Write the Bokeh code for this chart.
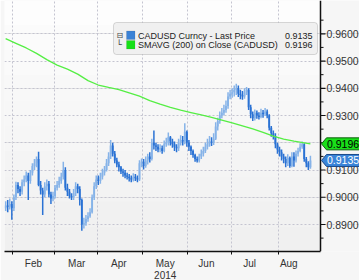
from bokeh.plotting import figure
from bokeh.models import Range1d, FixedTicker, BoxAnnotation, Label, Grid
from bokeh.core.properties import value
from bokeh.embed import file_html
from bokeh.resources import INLINE

# ---------------- data (trading-day index 0 = 28 Jan 2014) ----------------
month_names = ["Feb", "Mar", "Apr", "May", "Jun", "Jul", "Aug"]
month_bounds = [3.5, 23.5, 44.5, 66.5, 88.5, 109.5, 132.5]
month_label_pos = [13.5, 34.5, 55.0, 77.5, 97.5, 118.5, 137.5]
year_label = "2014"
year_under = "May"

open_first = 0.8960
close = [
    0.8970, 0.8965, 0.8975, 0.8960, 0.9000, 0.9045, 0.9030, 0.9020, 0.9055, 0.9065,
    0.9080, 0.9060, 0.9090, 0.9115, 0.9125, 0.9140, 0.9045, 0.9025, 0.9010, 0.9040,
    0.9050, 0.9010, 0.8995, 0.9005, 0.9035, 0.9045, 0.9060, 0.9075, 0.9100, 0.9035,
    0.9020, 0.9005, 0.9000, 0.9015, 0.9040, 0.9030, 0.8990, 0.8900, 0.8905, 0.8920,
    0.8930, 0.8945, 0.9000, 0.9040, 0.9065, 0.9060, 0.9075, 0.9090, 0.9100, 0.9125,
    0.9150, 0.9190, 0.9160, 0.9135, 0.9120, 0.9110, 0.9095, 0.9090, 0.9080, 0.9075,
    0.9070, 0.9065, 0.9075, 0.9070, 0.9065, 0.9125, 0.9130, 0.9115, 0.9135, 0.9150,
    0.9140, 0.9200, 0.9190, 0.9185, 0.9175, 0.9180, 0.9170, 0.9195, 0.9200, 0.9220,
    0.9205, 0.9195, 0.9185, 0.9180, 0.9200, 0.9210, 0.9205, 0.9240, 0.9200, 0.9185,
    0.9170, 0.9155, 0.9140, 0.9135, 0.9150, 0.9160, 0.9170, 0.9185, 0.9195, 0.9205,
    0.9200, 0.9215, 0.9260, 0.9280, 0.9300, 0.9310, 0.9320, 0.9335, 0.9370, 0.9380,
    0.9385, 0.9395, 0.9400, 0.9380, 0.9375, 0.9370, 0.9385, 0.9395, 0.9330, 0.9305,
    0.9290, 0.9310, 0.9300, 0.9295, 0.9310, 0.9305, 0.9315, 0.9300, 0.9255, 0.9235,
    0.9225, 0.9195, 0.9175, 0.9165, 0.9150, 0.9140, 0.9125, 0.9145, 0.9115, 0.9150,
    0.9135, 0.9160, 0.9170, 0.9185, 0.9195, 0.9140, 0.9125, 0.9110, 0.9135,
]
high = [
    0.8985, 0.8990, 0.8995, 0.8985, 0.9010, 0.9057, 0.9055, 0.9040, 0.9065, 0.9080,
    0.9095, 0.9090, 0.9100, 0.9125, 0.9140, 0.9150, 0.9167, 0.9060, 0.9035, 0.9055,
    0.9065, 0.9060, 0.9020, 0.9020, 0.9045, 0.9060, 0.9075, 0.9090, 0.9130, 0.9110,
    0.9050, 0.9030, 0.9015, 0.9030, 0.9055, 0.9050, 0.9040, 0.8995, 0.8925, 0.8935,
    0.8945, 0.8960, 0.9010, 0.9055, 0.9080, 0.9080, 0.9090, 0.9105, 0.9115, 0.9140,
    0.9165, 0.9210, 0.9200, 0.9170, 0.9145, 0.9130, 0.9115, 0.9105, 0.9100, 0.9090,
    0.9085, 0.9080, 0.9088, 0.9085, 0.9080, 0.9136, 0.9142, 0.9140, 0.9150, 0.9160,
    0.9165, 0.9215, 0.9245, 0.9200, 0.9195, 0.9195, 0.9190, 0.9208, 0.9218, 0.9238,
    0.9225, 0.9215, 0.9205, 0.9195, 0.9215, 0.9228, 0.9225, 0.9272, 0.9245, 0.9210,
    0.9190, 0.9175, 0.9160, 0.9150, 0.9160, 0.9175, 0.9185, 0.9200, 0.9215, 0.9225,
    0.9220, 0.9235, 0.9275, 0.9292, 0.9315, 0.9328, 0.9340, 0.9355, 0.9385, 0.9395,
    0.9400, 0.9410, 0.9417, 0.9410, 0.9395, 0.9390, 0.9400, 0.9405, 0.9400, 0.9340,
    0.9315, 0.9322, 0.9318, 0.9312, 0.9325, 0.9320, 0.9328, 0.9322, 0.9305, 0.9262,
    0.9245, 0.9235, 0.9200, 0.9185, 0.9175, 0.9160, 0.9150, 0.9158, 0.9150, 0.9165,
    0.9165, 0.9172, 0.9182, 0.9198, 0.9205, 0.9198, 0.9148, 0.9132, 0.9152,
]
low = [
    0.8950, 0.8945, 0.8955, 0.8917, 0.8950, 0.8990, 0.9015, 0.9005, 0.9010, 0.9040,
    0.9055, 0.8990, 0.9050, 0.9080, 0.9100, 0.9110, 0.9040, 0.9010, 0.8935, 0.9000,
    0.9025, 0.9000, 0.8975, 0.8985, 0.8995, 0.9025, 0.9035, 0.9050, 0.9065, 0.9025,
    0.9005, 0.8995, 0.8990, 0.8990, 0.9005, 0.9015, 0.8970, 0.8877, 0.8885, 0.8895,
    0.8910, 0.8925, 0.8940, 0.8990, 0.9030, 0.9045, 0.9050, 0.9065, 0.9080, 0.9095,
    0.9115, 0.9140, 0.9150, 0.9125, 0.9110, 0.9095, 0.9085, 0.9075, 0.9070, 0.9065,
    0.9058, 0.9055, 0.9058, 0.9060, 0.9055, 0.9060, 0.9110, 0.9102, 0.9108, 0.9120,
    0.9128, 0.9135, 0.9175, 0.9170, 0.9165, 0.9165, 0.9160, 0.9165, 0.9185, 0.9190,
    0.9190, 0.9182, 0.9170, 0.9165, 0.9170, 0.9190, 0.9190, 0.9195, 0.9185, 0.9170,
    0.9155, 0.9145, 0.9130, 0.9128, 0.9128, 0.9140, 0.9150, 0.9162, 0.9175, 0.9185,
    0.9188, 0.9192, 0.9210, 0.9245, 0.9270, 0.9290, 0.9300, 0.9310, 0.9325, 0.9360,
    0.9365, 0.9370, 0.9375, 0.9368, 0.9360, 0.9358, 0.9362, 0.9375, 0.9320, 0.9290,
    0.9280, 0.9282, 0.9288, 0.9285, 0.9290, 0.9292, 0.9298, 0.9290, 0.9245, 0.9222,
    0.9212, 0.9180, 0.9160, 0.9150, 0.9135, 0.9125, 0.9110, 0.9115, 0.9108, 0.9110,
    0.9112, 0.9128, 0.9150, 0.9165, 0.9178, 0.9130, 0.9110, 0.9100, 0.9105,
]
sma_day = [0, 5, 10, 15, 20, 25, 30, 35, 40, 45, 50, 55, 60, 65, 70, 75, 80, 85,
           90, 95, 100, 105, 110, 115, 120, 125, 130, 135, 140, 145, 148]
sma_val = [0.9582, 0.9565, 0.9548, 0.9528, 0.9505, 0.9485, 0.9470, 0.9452, 0.9428,
           0.9412, 0.9403, 0.9395, 0.9383, 0.9371, 0.9355, 0.9342, 0.9330, 0.9320,
           0.9311, 0.9302, 0.9293, 0.9283, 0.9273, 0.9262, 0.9251, 0.9238, 0.9224,
           0.9213, 0.9206, 0.9200, 0.9196]
last_price = 0.9135
last_sma = 0.9196
series_names = ["CADUSD Curncy - Last Price", "SMAVG (200) on Close (CADUSD)"]
y_ticks = [0.89, 0.90, 0.91, 0.92, 0.93, 0.94, 0.95, 0.96]
y_tick_labels = ["0.8900", "0.9000", "0.9100", "0.9200", "0.9300", "0.9400", "0.9500", "0.9600"]
y_minor = [0.885, 0.895, 0.905, 0.915, 0.925, 0.935, 0.945, 0.955, 0.965]

assert len(close) == len(high) == len(low) == 149

idx = list(range(len(close)))
opens = [open_first] + close[:-1]
top = [max(o, c) for o, c in zip(opens, close)]
bot = [min(o, c) for o, c in zip(opens, close)]
DARK, LIGHT = "#2a72d4", "#86b3e8"
cols = [LIGHT if c >= o else DARK for o, c in zip(opens, close)]

# ---------------- geometry ----------------
FW, FH = 355, 251
PXU = 153.45 / 316.0                 # data units per pixel along x
X0 = -0.55
X1 = X0 + FW * PXU
Y0, Y1 = 0.88009, 0.97222
PYU = (Y1 - Y0) / FH

def px(x):
    return X0 + (x - 4) * PXU

def py(y):
    return Y1 - y * PYU

AX = px(320)                          # price-axis position
FONT = "Liberation Sans"
TXT = "#333333"

p = figure(frame_width=FW, frame_height=FH, x_range=Range1d(X0, X1), y_range=Range1d(Y0, Y1),
           output_backend="svg", toolbar_location=None, y_axis_location=None,
           min_border_left=4, min_border_right=0, min_border_top=0, min_border_bottom=29,
           background_fill_color="#f6f6f6", border_fill_color="#f6f6f6",
           outline_line_color=None)

# gradient background bands for the plotting area
bands = []
nb = 10
for k in range(nb):
    g = int(253 - k * 1.4)
    col = "#%02x%02x%02x" % (g, g, g)
    bands.append(BoxAnnotation(left=X0, right=AX, top=Y1 - (Y1 - Y0) * k / nb,
                               bottom=Y1 - (Y1 - Y0) * (k + 1) / nb,
                               fill_color=col, fill_alpha=1, line_color=None, level="underlay"))

# x axis (bottom)
labels = {}
for k, v in zip(month_label_pos, month_names):
    labels[float(k)] = v + "\n" + year_label if v == year_under else v
xax = p.xaxis[0]
xax.bounds = (X0, AX)
xax.ticker = FixedTicker(ticks=month_label_pos, minor_ticks=month_bounds)
xax.major_label_overrides = labels
xax.major_label_text_font = FONT
xax.major_label_text_font_size = "10px"
xax.major_label_text_color = TXT
xax.major_label_text_line_height = 1.15
xax.major_label_standoff = 3
xax.major_tick_line_color = None
xax.major_tick_out = 0
xax.major_tick_in = 0
xax.minor_tick_out = 3
xax.minor_tick_in = 0
xax.minor_tick_line_color = "#111111"
xax.axis_line_width = 1.5
xax.axis_line_color = "#111111"

for g in p.xgrid:
    g.ticker = FixedTicker(ticks=month_bounds)
    g.grid_line_color = "#c4c4d0"
    g.grid_line_dash = "2 2"
ygrid = Grid(dimension=1, ticker=FixedTicker(ticks=y_ticks), bounds=(X0, AX),
             grid_line_color="#c4c4d0", grid_line_dash="2 2")
p.add_layout(ygrid)
other = [r for r in p.center]
p.center = bands + other

# price bars
p.segment(x0=idx, y0=low, x1=idx, y1=high, line_color=cols, line_width=1.5)
p.vbar(x=idx, width=0.9, top=top, bottom=bot, fill_color=cols, line_color=None)
# moving average
p.line(sma_day, sma_val, line_color="#55ee44", line_width=1.3)

# price axis on the right (line, ticks, labels)
p.segment(x0=[AX], y0=[Y0], x1=[AX], y1=[Y1], line_color="#111111", line_width=1.5)
p.segment(x0=[AX] * len(y_ticks), y0=y_ticks, x1=[px(325)] * len(y_ticks), y1=y_ticks,
          line_color="#111111", line_width=1.2)
p.segment(x0=[AX] * len(y_minor), y0=y_minor, x1=[px(323)] * len(y_minor), y1=y_minor,
          line_color="#111111", line_width=1)
p.text(x=[px(326)] * len(y_ticks), y=y_ticks, text=y_tick_labels, text_baseline="middle",
       text_font=value(FONT), text_font_size="10.5px", text_color=TXT)

# price tags on the right axis
half = 6.0 * PYU
for v, fc, tc, bc in [(last_sma, "#19e019", "#000000", "#0d5f0d"),
                      (last_price, "#3a84d8", "#ffffff", "#1b4a88")]:
    p.patch(x=[px(321), px(326), px(359.5), px(359.5), px(326)],
            y=[v, v + half, v + half, v - half, v - half],
            fill_color=fc, line_color=bc, line_width=1)
    p.text(x=[px(326.5)], y=[v], text=["%.4f" % v], text_baseline="middle",
           text_font=value(FONT), text_font_size="10.5px", text_color=tc)

# legend box
p.add_layout(BoxAnnotation(left=px(113), right=px(317), top=py(22), bottom=py(54),
                           fill_color="#f0f0f0", fill_alpha=1, line_color="#858585",
                           line_width=1, border_radius=3))
rows = [35, 44.5]
sq_cols = ["#3b82d6", "#16e016"]
vals = [last_price, last_sma]
for r, name, sc, v in zip(rows, series_names, sq_cols, vals):
    p.add_layout(BoxAnnotation(left=px(126), right=px(134.5), top=py(r - 4.5), bottom=py(r + 4),
                               fill_color=sc, fill_alpha=1, line_color="#555555", line_width=0.5))
    p.add_layout(Label(x=px(137.5), y=py(r), text=name, text_baseline="middle",
                       text_font=FONT, text_font_size="9px", text_color="#222222"))
    p.add_layout(Label(x=px(312), y=py(r), text="%.4f" % v, text_baseline="middle",
                       text_align="right", text_font=FONT, text_font_size="9px",
                       text_color="#222222"))
p.add_layout(Label(x=px(116), y=py(35), text="\u229f", text_baseline="middle",
                   text_font="DejaVu Sans", text_font_size="8px", text_color="#444444"))
p.add_layout(Label(x=px(116), y=py(44), text="\u2514", text_baseline="middle",
                   text_font="DejaVu Sans", text_font_size="9px", text_color="#444444"))

open("out.html", "w").write(file_html(p, INLINE))
